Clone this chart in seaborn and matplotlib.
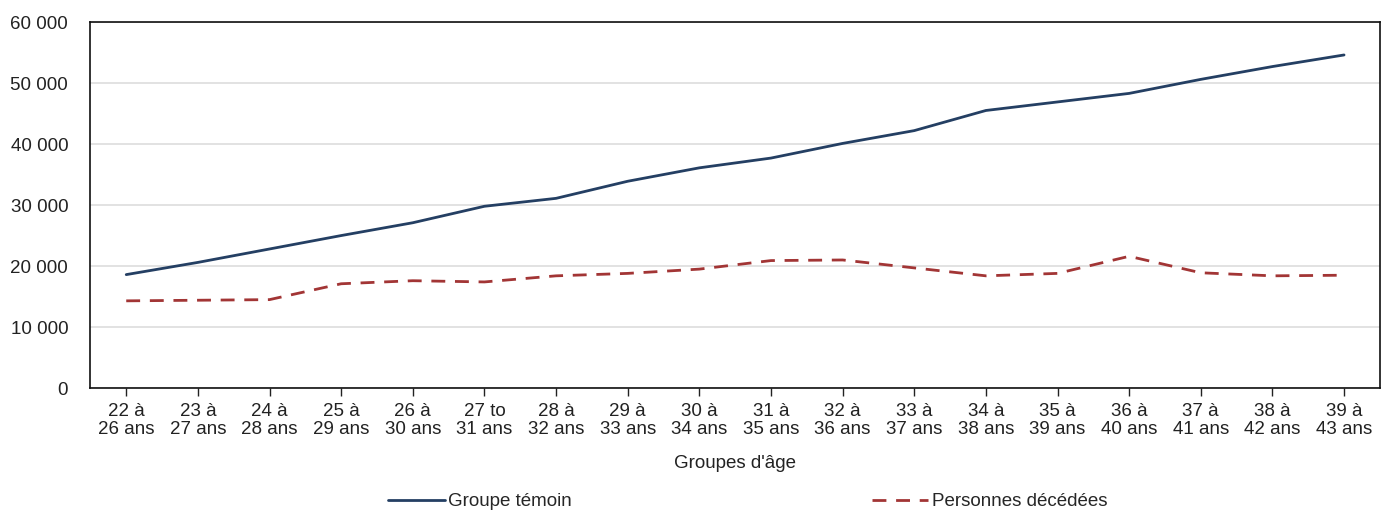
import pandas as pd
import seaborn as sns
import matplotlib.pyplot as plt
from matplotlib.ticker import FuncFormatter

# Age groups and values
age_groups = ["22 à\n26 ans", "23 à\n27 ans", "24 à\n28 ans", "25 à\n29 ans", "26 à\n30 ans",
              "27 to\n31 ans", "28 à\n32 ans", "29 à\n33 ans", "30 à\n34 ans", "31 à\n35 ans",
              "32 à\n36 ans", "33 à\n37 ans", "34 à\n38 ans", "35 à\n39 ans", "36 à\n40 ans",
              "37 à\n41 ans", "38 à\n42 ans", "39 à\n43 ans"]
groupe_temoin = [18600, 20600, 22800, 25000, 27100, 29800, 31100, 33900, 36100, 37700,
                 40100, 42200, 45500, 46900, 48300, 50600, 52700, 54600]
personnes_decedees = [14300, 14400, 14500, 17100, 17600, 17400, 18400, 18800, 19500, 20900,
                      21000, 19700, 18400, 18800, 21600, 18900, 18400, 18500]

df = pd.DataFrame({
    "pos": list(range(len(age_groups))) * 2,
    "value": groupe_temoin + personnes_decedees,
    "serie": ["Groupe témoin"] * len(age_groups) + ["Personnes décédées"] * len(age_groups),
})

sns.set_theme(style="white")
plt.rcParams["font.family"] = ["Liberation Sans", "DejaVu Sans"]

fig, ax = plt.subplots(figsize=(13.91, 5.12), dpi=100)
sns.lineplot(data=df, x="pos", y="value", hue="serie", style="serie",
             palette={"Groupe témoin": "#243f63", "Personnes décédées": "#a23535"},
             dashes={"Groupe témoin": "", "Personnes décédées": (5, 3.5)},
             linewidth=2, ax=ax)

ax.set_xlim(-0.5, len(age_groups) - 0.5)
ax.set_ylim(0, 60000)
ax.set_yticks(range(0, 60001, 10000))
ax.yaxis.set_major_formatter(FuncFormatter(lambda v, p: f"{int(v):,}".replace(",", " ")))
ax.set_xticks(range(len(age_groups)))
ax.set_xticklabels(age_groups, fontsize=13.5, color="#222222", linespacing=1.05)
ax.tick_params(axis="y", labelsize=13.5, colors="#222222", length=0, pad=16)
ax.tick_params(axis="x", length=6, width=1, color="#222222", direction="out", bottom=True, pad=5)
ax.grid(axis="y", color="#dddddd", linewidth=1.2)
for s in ax.spines.values():
    s.set_color("#111111")
    s.set_linewidth(1.2)
ax.set_ylabel("")
ax.set_xlabel("Groupes d'âge", fontsize=13.5, color="#222222", labelpad=12)

ax.legend(loc="center", bbox_to_anchor=(0.51, -0.31), ncol=2, frameon=False,
          fontsize=13.5, handlelength=3.0, handletextpad=0.2, columnspacing=16)

plt.subplots_adjust(left=0.065, right=0.992, top=0.957, bottom=0.242)
plt.savefig("out.png", dpi=100)
plt.close()
